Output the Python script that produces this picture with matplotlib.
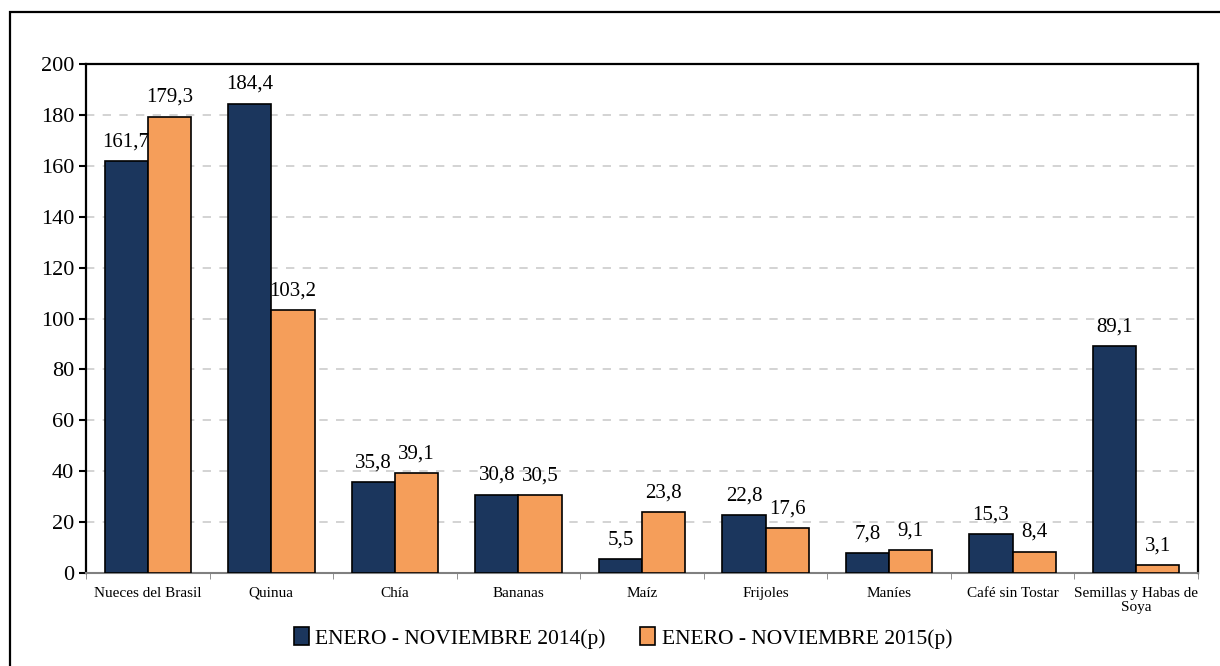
import numpy as np
import matplotlib.pyplot as plt
from matplotlib.patches import Rectangle

categorias = ['Nueces del Brasil', 'Quinua', 'Chía', 'Bananas', 'Maíz', 'Frijoles',
              'Maníes', 'Café sin Tostar', 'Semillas y Habas de\nSoya']
v2014 = [161.7, 184.4, 35.8, 30.8, 5.5, 22.8, 7.8, 15.3, 89.1]
v2015 = [179.3, 103.2, 39.1, 30.5, 23.8, 17.6, 9.1, 8.4, 3.1]
serie1 = 'ENERO - NOVIEMBRE 2014(p)'
serie2 = 'ENERO - NOVIEMBRE 2015(p)'

plt.rcParams['font.family'] = ['Liberation Serif', 'DejaVu Serif']

fig = plt.figure(figsize=(12.2, 6.66), dpi=100)
# marco exterior
fig.patches.append(Rectangle((10/1220, -0.1), 1.2, (666 - 12)/666 + 0.1, transform=fig.transFigure,
                             fill=False, edgecolor='black', linewidth=1.6))
ax = fig.add_axes([86/1220, 1 - 573/666, (1198 - 86)/1220, (573 - 64)/666])

x = np.arange(len(categorias))
w = 0.35
b1 = ax.bar(x - w/2, v2014, w, color='#1B365D', edgecolor='black', linewidth=1.2, label=serie1, zorder=3)
b2 = ax.bar(x + w/2, v2015, w, color='#F59E5A', edgecolor='black', linewidth=1.2, label=serie2, zorder=3)

def fmt(v):
    return ('%.1f' % v).replace('.', ',')

for bars, vals in ((b1, v2014), (b2, v2015)):
    for r, v in zip(bars, vals):
        ax.annotate(fmt(v), (r.get_x() + r.get_width()/2, v), xytext=(0, 7),
                    textcoords='offset points', ha='center', va='bottom', fontsize=15)

ax.set_xlim(-0.5, len(categorias) - 0.5)
ax.set_ylim(0, 200)
ax.set_yticks(range(0, 201, 20))
ax.tick_params(axis='y', labelsize=16, direction='out', length=5, width=1.5)
ax.set_xticks(x)
ax.set_xticklabels(categorias, fontsize=11, linespacing=1.1)
ax.tick_params(axis='x', length=0, pad=10)
ax.set_xticks(np.arange(-0.5, len(categorias)), minor=True)
ax.tick_params(axis='x', which='minor', length=4, color='gray')
ax.yaxis.grid(True, linestyle=(0, (5, 5)), color='#cccccc', linewidth=1.2, zorder=0)
for s in ('left', 'top', 'right'):
    ax.spines[s].set_linewidth(1.6)
ax.spines['bottom'].set_color('gray')
ax.spines['bottom'].set_linewidth(1.5)

ax.legend(loc='center', bbox_to_anchor=(0.483, -0.128), ncol=2, frameon=False, fontsize=15.5,
          handlelength=0.7, handleheight=0.9, handletextpad=0.3, columnspacing=1.6)

fig.savefig('out.png', dpi=100)
